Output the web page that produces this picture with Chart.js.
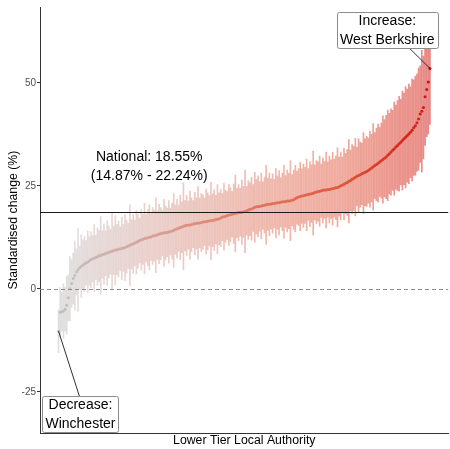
<!DOCTYPE html>
<html><head><meta charset="utf-8">
<script src="https://cdn.jsdelivr.net/npm/chart.js@4.4.0/dist/chart.umd.min.js"></script>
<style>html,body{margin:0;padding:0;background:#fff}#wrap{width:450px;height:449px}</style>
</head><body><div id="wrap"><canvas id="c" width="450" height="449"></canvas></div>
<script>
// Standardised change (%) per Lower Tier Local Authority, sorted ascending
const values = [
-10.3,-5.7,-5.6,-5.4,-5.0,-4.0,-2.2,0.0,1.3,2.5,
3.2,4.1,4.6,5.1,5.5,5.8,6.0,6.3,6.5,6.8,
7.1,7.3,7.5,7.6,7.8,8.0,8.1,8.3,8.4,8.6,
8.7,8.9,9.0,9.1,9.3,9.4,9.5,9.6,9.7,9.8,
9.9,10.0,10.2,10.4,10.6,10.8,10.9,11.1,11.3,11.5,
11.7,11.9,12.0,12.2,12.3,12.4,12.5,12.6,12.8,12.9,
13.0,13.1,13.3,13.4,13.5,13.6,13.6,13.7,13.8,13.9,
14.0,14.2,14.4,14.6,14.7,14.9,15.0,15.2,15.3,15.4,
15.5,15.5,15.6,15.7,15.8,15.9,16.0,16.0,16.1,16.2,
16.3,16.3,16.4,16.5,16.5,16.6,16.7,16.8,16.9,17.0,
17.2,17.4,17.5,17.6,17.8,17.9,18.0,18.1,18.2,18.3,
18.4,18.5,18.6,18.6,18.7,18.8,18.9,19.1,19.3,19.4,
19.6,19.8,19.9,20.0,20.0,20.1,20.2,20.3,20.4,20.5,
20.5,20.6,20.7,20.7,20.8,20.9,20.9,21.0,21.1,21.1,
21.2,21.3,21.3,21.4,21.5,21.6,21.9,22.1,22.3,22.4,
22.5,22.6,22.7,22.8,22.9,23.0,23.1,23.2,23.4,23.5,
23.6,23.7,23.8,23.9,24.0,24.0,24.1,24.1,24.2,24.3,
24.4,24.5,24.6,24.8,25.0,25.2,25.4,25.6,25.8,26.1,
26.3,26.6,26.8,27.1,27.3,27.5,27.7,27.9,28.1,28.3,
28.5,28.7,29.0,29.3,29.6,29.9,30.2,30.5,30.8,31.1,
31.4,31.7,32.0,32.4,32.8,33.2,33.6,34.0,34.4,34.8,
35.2,35.6,36.0,36.4,36.8,37.2,37.6,38.0,38.5,39.1,
39.6,40.3,41.2,42.4,43.1,44.0,46.6,48.4,50.2,53.5
];
// half-width of the confidence interval for each authority
const margins = [
5.2,6.0,4.7,6.6,5.3,7.0,5.6,7.8,5.8,6.2,
8.4,5.6,10.0,5.2,7.6,6.1,6.7,5.4,7.5,5.9,
6.8,5.6,8.2,5.3,7.0,6.2,9.4,5.8,7.3,5.5,
7.8,6.3,5.4,9.2,5.9,8.4,6.1,6.8,5.3,7.6,
5.7,8.0,6.4,5.5,9.8,6.0,7.1,5.6,7.7,6.5,
5.4,7.4,6.1,8.6,5.8,6.8,7.9,5.7,6.9,6.2,
9.1,5.9,7.2,6.3,5.5,8.1,6.5,5.9,7.6,5.7,
6.8,9.0,6.0,7.1,5.6,7.8,6.2,10.5,6.1,7.3,
5.8,8.3,6.5,5.7,7.6,6.2,8.8,6.0,7.0,6.6,
5.8,7.9,6.9,6.1,9.4,6.4,7.4,5.9,8.4,6.3,
6.9,5.7,8.1,6.3,5.8,7.4,6.5,5.5,7.2,9.3,
6.0,6.8,5.8,7.8,6.2,10.0,5.9,7.1,6.4,7.6,
5.7,8.5,6.6,7.4,6.0,8.0,5.8,6.8,9.6,6.3,
7.6,6.1,7.2,5.9,8.4,6.5,7.8,6.0,7.0,8.9,
6.3,7.5,6.7,9.7,6.2,7.2,8.1,6.4,6.9,8.3,
6.6,7.7,6.8,8.7,6.3,7.9,7.0,10.2,6.7,7.6,
7.2,8.5,6.5,7.9,6.9,9.2,6.7,8.1,7.1,8.8,
7.0,7.7,9.6,7.2,8.2,6.8,8.7,7.3,8.0,10.1,
7.4,8.4,7.8,9.4,7.1,8.9,7.9,7.5,9.8,8.1,
8.5,7.9,9.2,8.2,10.5,8.0,8.8,9.5,8.4,9.1,
10.6,9.4,10.1,11.0,9.8,10.5,9.7,11.3,10.2,10.9,
11.5,10.4,12.0,11.1,12.3,11.3,12.1,11.0,12.4,11.6,
12.0,11.8,12.4,11.7,14.8,12.5,11.8,11.5,12.6,13.6
];
const yTicks = [-25, 0, 25, 50];
const national = 18.55;
const nationalLo = 14.87;
const nationalHi = 22.24;
const nationalText = ['National: ' + national.toFixed(2) + '%', '(' + nationalLo.toFixed(2) + '% - ' + nationalHi.toFixed(2) + '%)'];
const increaseText = ['Increase:', 'West Berkshire'];
const decreaseText = ['Decrease:', 'Winchester'];

const n = values.length;
const ranks = values.map((v, i) => i + 1);
const stops = [[-10,[190,190,190]],[5,[200,190,190]],[13,[215,160,150]],[18,[222,130,110]],[22,[226,105,80]],[27,[223,75,50]],[35,[215,40,25]],[54,[205,10,10]]];
function col(v, a) {
  let c = stops[stops.length-1][1];
  if (v <= stops[0][0]) c = stops[0][1];
  else for (let k = 0; k < stops.length-1; k++) {
    const [v0,c0] = stops[k], [v1,c1] = stops[k+1];
    if (v >= v0 && v <= v1) { const t = (v-v0)/(v1-v0); c = c0.map((x,j)=>Math.round(x+(c1[j]-x)*t)); break; }
  }
  return `rgba(${c[0]},${c[1]},${c[2]},${a})`;
}
const FONT = "'Liberation Sans', Arial, sans-serif";

const annot = {
  id: 'annot',
  afterDatasetsDraw(chart) {
    const {ctx, chartArea: a, scales: {x, y}} = chart;
    ctx.save();
    ctx.beginPath(); ctx.rect(a.left, a.top, a.right - a.left, a.bottom - a.top); ctx.clip();
    const yn = Math.round(y.getPixelForValue(national)) + 0.5;
    ctx.strokeStyle = '#1a1a1a'; ctx.lineWidth = 1;
    ctx.beginPath(); ctx.moveTo(a.left, yn); ctx.lineTo(a.right, yn); ctx.stroke();
    const y0 = Math.round(y.getPixelForValue(0)) + 0.5;
    ctx.strokeStyle = '#8a8a8a'; ctx.setLineDash([4, 3]);
    ctx.beginPath(); ctx.moveTo(a.left, y0); ctx.lineTo(a.right, y0); ctx.stroke();
    ctx.restore();
  },
  afterDraw(chart) {
    const {ctx, scales: {x, y}} = chart;
    ctx.save();
    ctx.fillStyle = '#000';
    ctx.font = '14px ' + FONT;
    ctx.textAlign = 'center'; ctx.textBaseline = 'middle';
    const nx = x.getPixelForValue(56.9);
    ctx.fillText(nationalText[0], nx, y.getPixelForValue(31.9));
    ctx.fillText(nationalText[1], nx, y.getPixelForValue(27.3));
    function box(lines, cxv, cyv, tx, ty, fromTop) {
      const cx = x.getPixelForValue(cxv), cy = y.getPixelForValue(cyv);
      ctx.font = '14px ' + FONT;
      const w = Math.max(...lines.map(l => ctx.measureText(l).width)) + 6;
      const h = 36;
      const bx = cx - w/2, by = cy - h/2;
      const px = x.getPixelForValue(tx), py = y.getPixelForValue(ty);
      ctx.strokeStyle = '#1a1a1a'; ctx.lineWidth = 0.9;
      ctx.beginPath();
      const sx = cx + (fromTop ? -1 : 22), sy = fromTop ? by : by + h;
      ctx.moveTo(sx, sy); ctx.lineTo(px, py); ctx.stroke();
      ctx.fillStyle = '#fff'; ctx.strokeStyle = '#8c8c8c'; ctx.lineWidth = 1;
      ctx.beginPath();
      if (ctx.roundRect) ctx.roundRect(Math.round(bx)+0.5, Math.round(by)+0.5, Math.round(w), h, 2); else ctx.rect(Math.round(bx)+0.5, Math.round(by)+0.5, Math.round(w), h);
      ctx.fill(); ctx.stroke();
      ctx.fillStyle = '#000';
      ctx.fillText(lines[0], cx, cy - 9);
      ctx.fillText(lines[1], cx, cy + 10);
    }
    box(increaseText, 203.7, 62.8, n, values[n-1], false);
    box(decreaseText, 14.5, -30.5, 1, values[0], true);
    ctx.restore();
  }
};

new Chart(document.getElementById('c'), {
  type: 'bar',
  data: {
    datasets: [
      {
        type: 'scatter', order: 0,
        data: values.map((v, i) => ({x: ranks[i], y: v})),
        pointRadius: 1.5, pointBorderWidth: 0, pointHoverRadius: 1.5,
        pointBackgroundColor: values.map(v => col(v, 1)),
        showLine: false
      },
      {
        type: 'bar', order: 1,
        data: values.map((v, i) => ({x: ranks[i], y: [v - margins[i], v + margins[i]]})),
        backgroundColor: values.map(v => col(v, 0.5)),
        borderWidth: 0, borderSkipped: false,
        barThickness: 1, grouped: false
      }
    ]
  },
  options: {
    responsive: false, animation: false,
    layout: {padding: {top: 5, right: 0, left: 0, bottom: 0}},
    plugins: {legend: {display: false}, tooltip: {enabled: false}},
    scales: {
      x: {
        type: 'linear', offset: false,
        min: 1 - 0.05*(n-1), max: n + 0.05*(n-1),
        ticks: {display: false},
        grid: {display: false, drawTicks: false},
        border: {display: true, color: '#333', width: 1},
        title: {display: true, text: 'Lower Tier Local Authority', color: '#000', font: {family: FONT, size: 12.3}, padding: {top: 1, bottom: 1}},
        afterFit(s) { s.height = 16; }
      },
      y: {
        type: 'linear', min: -35, max: 68.4,
        afterBuildTicks(s) { s.ticks = yTicks.map(v => ({value: v})); },
        ticks: {color: '#4d4d4d', font: {family: FONT, size: 10}, padding: 1},
        grid: {display: true, drawOnChartArea: false, drawTicks: true, tickLength: 3, color: '#333'},
        border: {display: true, color: '#333', width: 1},
        title: {display: true, text: 'Standardised change (%)', color: '#000', font: {family: FONT, size: 12.3}, padding: {top: 6, bottom: 0}},
        afterFit(s) { s.width = 40; }
      }
    }
  },
  plugins: [annot]
});
</script></body></html>
